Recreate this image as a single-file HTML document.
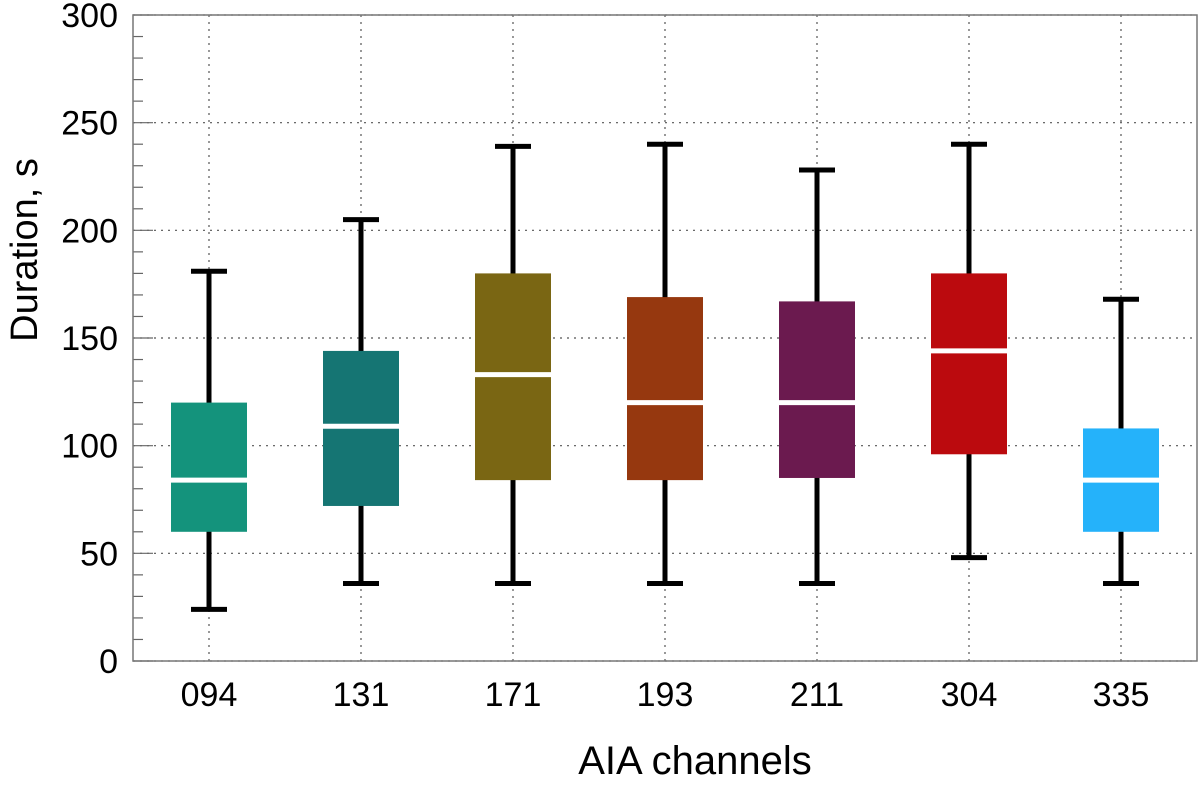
<!DOCTYPE html>
<html><head><meta charset="utf-8"><style>
body{margin:0;background:#fff;}
svg text{font-family:"Liberation Sans",sans-serif;fill:#000;}
</style></head><body>
<svg id="chart" width="1200" height="789" xmlns="http://www.w3.org/2000/svg"></svg>
<script>
const categories=["094","131","171","193","211","304","335"];
const whiskerLow=[24,36,36,36,36,48,36];
const q1=[60,72,84,84,85,96,60];
const medians=[84,109,133,120,120,144,84];
const q3=[120,144,180,169,167,180,108];
const whiskerHigh=[181,205,239,240,228,240,168];
const colors=["#14937c","#157573","#7a6613","#96380f","#6b1a4f","#bb0a0e","#25b2fa"];
const yTicks=[0,50,100,150,200,250,300];

const L=133,R=1197,T=15,B=661,YMAX=300;
const NS="http://www.w3.org/2000/svg";
const svg=document.getElementById('chart');
const bw=(R-L)/categories.length;
const x=i=>L+bw*(i+0.5);
const y=v=>B-(v/YMAX)*(B-T);
function mk(tag,attrs,parent){const e=document.createElementNS(NS,tag);for(const k in attrs)e.setAttribute(k,attrs[k]);(parent||svg).appendChild(e);return e;}

yTicks.forEach(v=>{
  const g=mk('line',{x1:L,x2:R,y1:y(v),y2:y(v),stroke:'#555','stroke-width':1.2,'stroke-dasharray':'2,5'});
  
  
});
categories.forEach((c,i)=>{
  const g=mk('line',{x1:x(i),x2:x(i),y1:T,y2:B,stroke:'#555','stroke-width':1.2,'stroke-dasharray':'2,5'});
  
  
});
for(let v=0;v<=YMAX;v+=10){
  const len=(v%50===0)?20:10;
  const t=mk('line',{x1:L,x2:L+len,y1:y(v),y2:y(v),stroke:'#666','stroke-width':1.2});
  
  
}
const fr=mk('rect',{x:L,y:T,width:R-L,height:B-T,fill:'none',stroke:'#777','stroke-width':1.5});



categories.forEach((c,i)=>{
  const g=mk('g',{});
  
  
  const cx=x(i),half=38,cap=18;
  mk('line',{x1:cx,x2:cx,y1:y(whiskerLow[i]),y2:y(whiskerHigh[i]),stroke:'#000','stroke-width':5},g);
  mk('line',{x1:cx-cap,x2:cx+cap,y1:y(whiskerLow[i]),y2:y(whiskerLow[i]),stroke:'#000','stroke-width':5},g);
  mk('line',{x1:cx-cap,x2:cx+cap,y1:y(whiskerHigh[i]),y2:y(whiskerHigh[i]),stroke:'#000','stroke-width':5},g);
  mk('rect',{x:cx-half,y:y(q3[i]),width:half*2,height:y(q1[i])-y(q3[i]),fill:colors[i]},g);
  mk('line',{x1:cx-half,x2:cx+half,y1:y(medians[i]),y2:y(medians[i]),stroke:'#fff','stroke-width':5},g);
});

yTicks.forEach(v=>{
  const t=mk('text',{x:118,y:y(v)+12,'font-size':34,'text-anchor':'end'});
  t.textContent=v;
  
  
});
categories.forEach((c,i)=>{
  const t=mk('text',{x:x(i),y:706,'font-size':34,'text-anchor':'middle'});
  t.textContent=c;
  
  
});
const xt=mk('text',{x:695,y:774,'font-size':40,'text-anchor':'middle'});
xt.textContent='AIA channels';


const yt=mk('text',{x:0,y:0,'font-size':38,'text-anchor':'middle',transform:'translate(37,250) rotate(-90)'});
yt.textContent='Duration, s';


</script>
</body></html>
